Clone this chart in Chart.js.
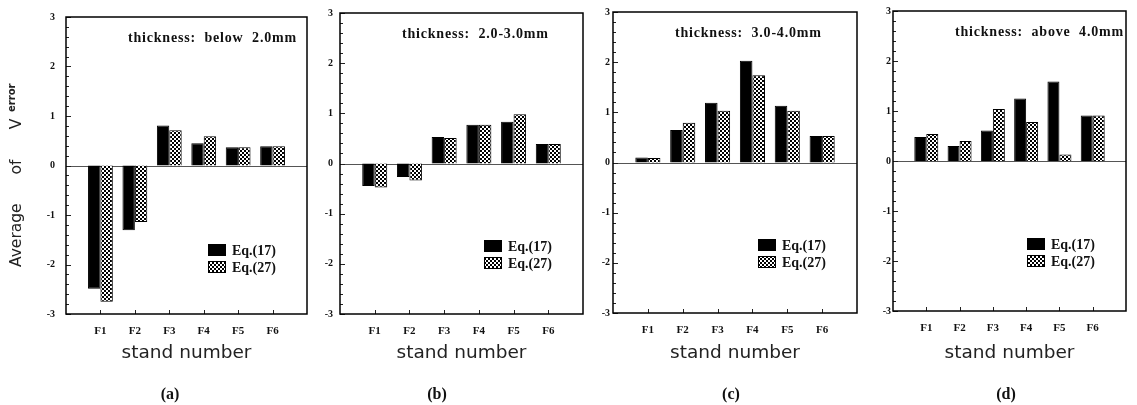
<!DOCTYPE html>
<html>
<head>
<meta charset="utf-8">
<script src="https://cdn.jsdelivr.net/npm/chart.js@4.4.1/dist/chart.umd.min.js"></script>
<style>
html,body{margin:0;padding:0;background:#fff;width:1137px;height:405px;overflow:hidden}
canvas{position:absolute;left:0;top:0}
</style>
</head>
<body>
<canvas id="pa" width="1137" height="405"></canvas>
<canvas id="pb" width="1137" height="405"></canvas>
<canvas id="pc" width="1137" height="405"></canvas>
<canvas id="pd" width="1137" height="405"></canvas>
<script>
// ---------- data ----------
const categories = ['F1', 'F2', 'F3', 'F4', 'F5', 'F6'];
const yTickValues = [-3, -2, -1, 0, 1, 2, 3];
const seriesNames = ['Eq.(17)', 'Eq.(27)'];
const panelNotes = ['thickness:  below  2.0mm', 'thickness:  2.0-3.0mm', 'thickness:  3.0-4.0mm', 'thickness:  above  4.0mm'];
const panelTags = ['(a)', '(b)', '(c)', '(d)'];
const xTitle = 'stand number';
const yTitleParts = ['Average', 'of', 'V', 'error'];

const eq17A = [-2.49, -1.31, 0.81, 0.45, 0.37, 0.39];
const eq27A = [-2.75, -1.14, 0.71, 0.59, 0.37, 0.39];
const eq17B = [-0.45, -0.27, 0.53, 0.77, 0.83, 0.39];
const eq27B = [-0.48, -0.34, 0.51, 0.77, 0.98, 0.39];
const eq17C = [0.10, 0.65, 1.19, 2.03, 1.13, 0.53];
const eq27C = [0.09, 0.79, 1.03, 1.74, 1.03, 0.53];
const eq17D = [0.48, 0.30, 0.61, 1.25, 1.59, 0.91];
const eq27D = [0.54, 0.40, 1.04, 0.78, 0.13, 0.91];

// ---------- layout (geometry only) ----------
const W = 1137, H = 405;
const geo = [
  {id: 'pa', left: 66,  right: 307,  top: 13, bottom: 314, labPad: 11, tagX: 170},
  {id: 'pb', left: 340, right: 583,  top: 13, bottom: 314, labPad: 7,  tagX: 437},
  {id: 'pc', left: 613, right: 857,  top: 12, bottom: 313, labPad: 3,  tagX: 731},
  {id: 'pd', left: 893, right: 1136, top: 11, bottom: 311, labPad: 2,  tagX: 1006}
];
const panelData = [[eq17A, eq27A], [eq17B, eq27B], [eq17C, eq27C], [eq17D, eq27D]];

function makePattern() {
  const c = document.createElement('canvas');
  c.width = 4; c.height = 4;
  const g = c.getContext('2d');
  g.fillStyle = '#000'; g.fillRect(0, 0, 4, 4);
  g.fillStyle = '#fff';
  g.fillRect(0, 0, 2, 2);
  g.fillRect(2, 2, 2, 2);
  return g.createPattern(c, 'repeat');
}
const hatch = makePattern();

const SERIF = "'Liberation Serif', 'DejaVu Serif', serif";
const SANS = "'DejaVu Sans', sans-serif";

function panelPlugin(i) {
  const g = geo[i];
  return {
    id: 'deco' + i,
    beforeDatasetsDraw(chart) {
      const ctx = chart.ctx, a = chart.chartArea, y = chart.scales.y;
      ctx.save();
      ctx.strokeStyle = '#555';
      ctx.lineWidth = 1;
      const y0 = Math.round(y.getPixelForValue(0)) + 0.5;
      ctx.beginPath(); ctx.moveTo(a.left, y0); ctx.lineTo(a.right, y0); ctx.stroke();
      ctx.restore();
    },
    afterDraw(chart) {
      const ctx = chart.ctx, a = chart.chartArea, ys = chart.scales.y, xs = chart.scales.x;
      ctx.save();
      // minor / major ticks on left axis (inside)
      ctx.strokeStyle = '#222'; ctx.lineWidth = 1;
      for (let k = -15; k <= 15; k++) {
        const py = Math.round(ys.getPixelForValue(k / 5)) + 0.5;
        const len = (k % 5 === 0) ? 5 : 3;
        ctx.beginPath(); ctx.moveTo(a.left, py); ctx.lineTo(a.left + len, py); ctx.stroke();
      }
      // category ticks on bottom axis (inside)
      for (let k = 1; k <= categories.length; k++) {
        const px = Math.round(xs.getPixelForValue(k)) + 0.5;
        ctx.beginPath(); ctx.moveTo(px, a.bottom); ctx.lineTo(px, a.bottom - 4); ctx.stroke();
      }
      // frame
      ctx.strokeStyle = '#000'; ctx.lineWidth = 1.5;
      ctx.strokeRect(a.left, a.top, a.right - a.left, a.bottom - a.top);

      // thickness note
      ctx.fillStyle = '#111';
      ctx.font = 'bold 14px ' + SERIF;
      ctx.letterSpacing = '0.8px';
      ctx.textAlign = 'left'; ctx.textBaseline = 'middle';
      ctx.fillText(panelNotes[i], a.left + 62, a.top + 21);
      ctx.letterSpacing = '0px';

      // legend
      const bx = a.right - 99, bw = 18, bh = 12;
      const rows = [a.top + 227, a.top + 244];
      const fills = ['#000', hatch];
      ctx.font = 'bold 14px ' + SERIF;
      for (let r = 0; r < 2; r++) {
        ctx.fillStyle = fills[r];
        ctx.fillRect(bx, rows[r], bw, bh);
        ctx.strokeStyle = '#000'; ctx.lineWidth = 1;
        ctx.strokeRect(bx + 0.5, rows[r] + 0.5, bw - 1, bh - 1);
        ctx.fillStyle = '#111';
        ctx.fillText(seriesNames[r], bx + bw + 6, rows[r] + bh / 2 + 1);
      }

      // x title
      ctx.font = '18.5px ' + SANS;
      ctx.textAlign = 'center'; ctx.textBaseline = 'alphabetic';
      ctx.fillStyle = '#222';
      ctx.fillText(xTitle, (a.left + a.right) / 2, 358);

      // panel tag
      ctx.font = 'bold 16px ' + SERIF;
      ctx.fillStyle = '#111';
      ctx.fillText(panelTags[i], g.tagX, 399);

      // y title (first panel only)
      if (i === 0) {
        ctx.fillStyle = '#222';
        ctx.save();
        ctx.translate(21, 0);
        ctx.rotate(-Math.PI / 2);
        ctx.textBaseline = 'alphabetic';
        ctx.font = '15.5px ' + SANS;
        ctx.textAlign = 'left';
        ctx.fillText(yTitleParts[0], -267, 0);
        ctx.textAlign = 'center';
        ctx.fillText(yTitleParts[1], -167, 0);
        ctx.fillText(yTitleParts[2], -124, 0);
        ctx.font = 'bold 10px ' + SANS;
        ctx.textAlign = 'left';
        ctx.fillText(yTitleParts[3], -112, -6);
        ctx.restore();
      }
      ctx.restore();
    }
  };
}

geo.forEach((g, i) => {
  const axisLabels = [''].concat(categories, ['']);
  const [s17, s27] = panelData[i];
  new Chart(document.getElementById(g.id), {
    type: 'bar',
    data: {
      labels: axisLabels,
      datasets: [
        {label: seriesNames[0], data: [null].concat(s17, [null]), backgroundColor: '#000', borderColor: '#000', borderWidth: 1},
        {label: seriesNames[1], data: [null].concat(s27, [null]), backgroundColor: hatch, borderColor: '#000', borderWidth: 1}
      ]
    },
    options: {
      responsive: false,
      animation: false,
      events: [],
      layout: {padding: {left: 0, top: g.top, right: W - g.right, bottom: 0}},
      datasets: {bar: {categoryPercentage: 0.72, barPercentage: 1.0}},
      plugins: {legend: {display: false}, tooltip: {enabled: false}},
      scales: {
        x: {
          type: 'category',
          offset: false,
          grid: {display: false, drawTicks: false},
          border: {display: false},
          ticks: {autoSkip: false, maxRotation: 0, minRotation: 0, padding: 11, color: '#111',
                  font: {family: SERIF, size: 11, weight: 'bold'}},
          afterFit(scale) { scale.height = H - g.bottom; }
        },
        y: {
          min: yTickValues[0], max: yTickValues[yTickValues.length - 1],
          grid: {display: false, drawTicks: false},
          border: {display: false},
          afterBuildTicks(scale) { scale.ticks = yTickValues.map(v => ({value: v})); },
          ticks: {padding: g.labPad, color: '#111', font: {family: SERIF, size: 10, weight: 'bold'},
                  callback: v => String(v)},
          afterFit(scale) { scale.width = g.left; }
        }
      }
    },
    plugins: [panelPlugin(i)]
  });
});
</script>
</body>
</html>
